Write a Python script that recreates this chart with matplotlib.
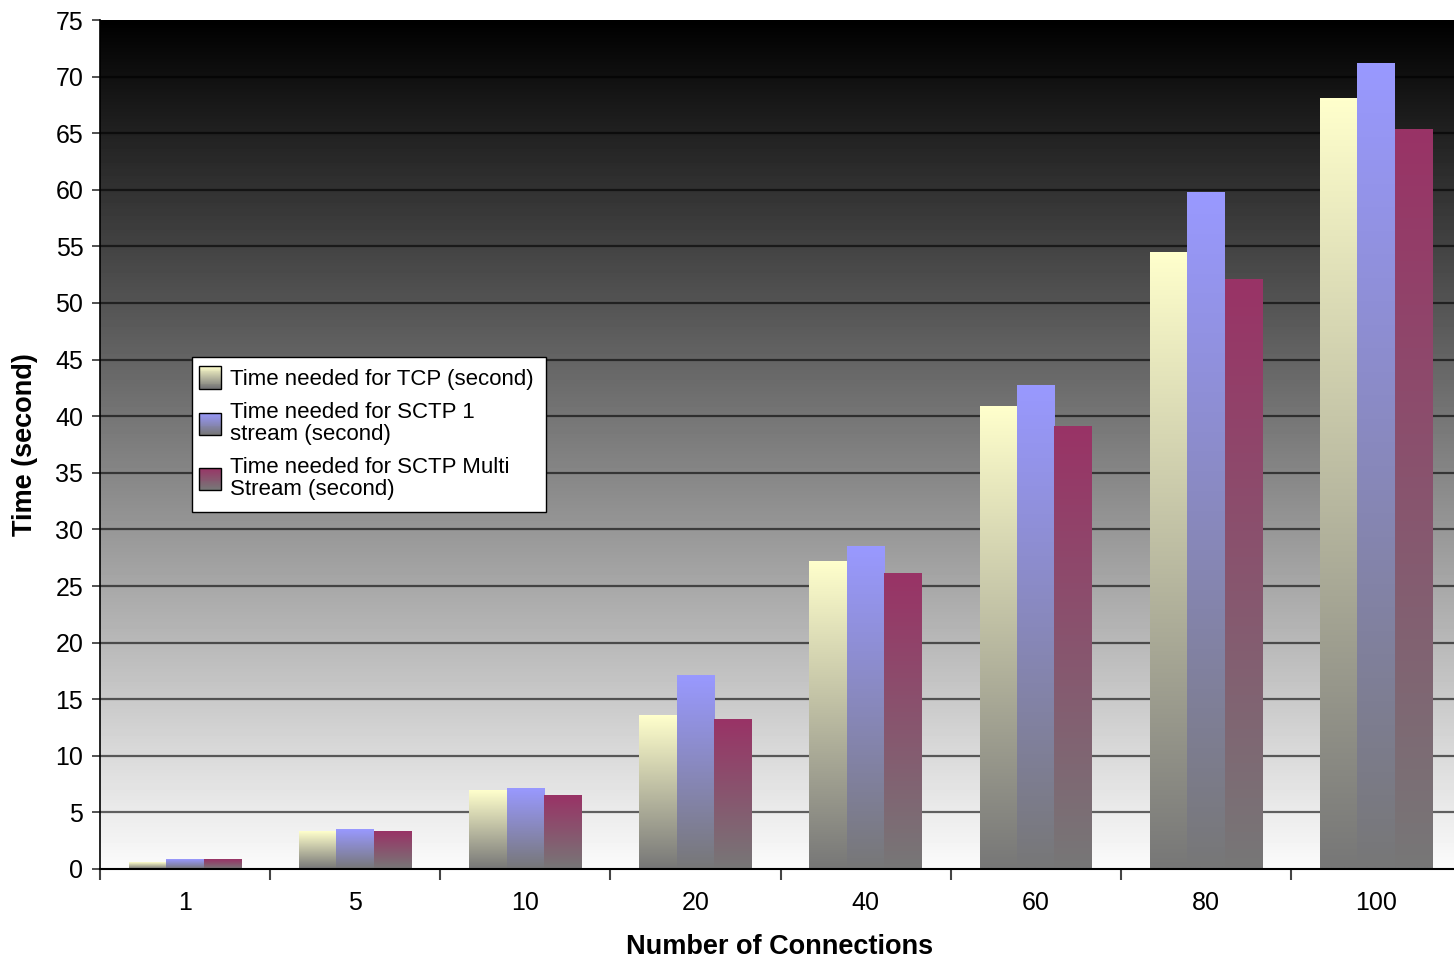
import numpy as np
import matplotlib
matplotlib.use("Agg")
import matplotlib.pyplot as plt
from matplotlib.colors import to_rgb
from matplotlib.patches import Rectangle
from matplotlib.legend_handler import HandlerBase

plt.rcParams['font.family'] = ['Liberation Sans', 'DejaVu Sans']

# Data
connections = ["1", "5", "10", "20", "40", "60", "80", "100"]
tcp = [0.6, 3.3, 6.9, 13.6, 27.2, 40.9, 54.5, 68.1]
sctp_single = [0.8, 3.5, 7.1, 17.1, 28.5, 42.7, 59.8, 71.2]
sctp_multi = [0.8, 3.3, 6.5, 13.2, 26.1, 39.1, 52.1, 65.3]
series_labels = ["Time needed for TCP (second)",
                 "Time needed for SCTP 1\nstream (second)",
                 "Time needed for SCTP Multi\nStream (second)"]
top_colors = ["#ffffcc", "#9999ff", "#993366"]
bottom_color = "#777777"

W, H = 1454, 958
fig = plt.figure(figsize=(W / 100, H / 100), dpi=100)
fig.patch.set_facecolor("white")
ax = fig.add_axes([100 / W, (H - 869) / H, 1361 / W, 849 / H])

# Background gradient: black at top fading to near white at bottom
bg = np.linspace(0.0, 0.985, 256).reshape(-1, 1)
ax.imshow(np.repeat(bg, 2, axis=1), cmap="gray", vmin=0, vmax=1,
          origin="upper", extent=[0, 1, 0, 1], transform=ax.transAxes,
          aspect="auto", zorder=0, interpolation="bilinear")

x = np.arange(len(connections))
width = 0.22


def gradient_image(top, bottom, n=128):
    t = np.linspace(0, 1, n)[:, None]
    c0 = np.array(to_rgb(top))
    c1 = np.array(to_rgb(bottom))
    img = c0[None, :] * (1 - t) + c1[None, :] * t
    return img[:, None, :]


for i, (vals, col) in enumerate(zip([tcp, sctp_single, sctp_multi], top_colors)):
    bars = ax.bar(x + (i - 1) * width, vals, width, color="none",
                  edgecolor="none", zorder=3)
    img = gradient_image(col, bottom_color)
    for b in bars:
        x0, y0 = b.get_x(), b.get_y()
        ax.imshow(img, origin="upper",
                  extent=[x0, x0 + b.get_width(), y0, y0 + b.get_height()],
                  aspect="auto", zorder=3, interpolation="bilinear")
ax.set_xlim(-0.5, len(connections) - 0.5)
ax.set_ylim(0, 75)

# Gridlines
for yv in range(5, 75, 5):
    ax.axhline(yv, color="black", lw=1.6, alpha=0.6, zorder=2)

# Axes styling
for s in ["top", "right"]:
    ax.spines[s].set_visible(False)
ax.spines["left"].set_color("black")
ax.spines["bottom"].set_color("black")
ax.spines["left"].set_linewidth(1.2)
ax.spines["bottom"].set_linewidth(1.5)
ax.spines["left"].set_zorder(5)
ax.spines["bottom"].set_zorder(5)

ax.set_yticks(range(0, 80, 5))
ax.tick_params(axis="y", direction="out", length=6, width=1.2,
               labelsize=18, pad=6, color="#333333")
ax.set_xticks(x)
ax.set_xticklabels(connections)
ax.set_xticks(np.arange(-0.5, len(connections) + 0.5, 1), minor=True)
ax.tick_params(axis="x", which="major", length=0, labelsize=18, pad=16)
ax.tick_params(axis="x", which="minor", direction="out", length=8,
               width=1.5, color="#444444")

fig.text(780 / W, 1 - 947 / H, "Number of Connections", fontsize=19.5,
         fontweight="bold", ha="center", va="center")
fig.text(25 / W, 1 - 445 / H, "Time (second)", rotation=90, fontsize=19.5,
         fontweight="bold", ha="center", va="center")


class GradientHandler(HandlerBase):
    """Legend swatch filled with the same vertical gradient as the bars."""

    def __init__(self, top, **kw):
        super().__init__(**kw)
        self.top = top

    def create_artists(self, legend, orig_handle, xdescent, ydescent, width,
                       height, fontsize, trans):
        arts = []
        n = 24
        c0 = np.array(to_rgb(self.top))
        c1 = np.array(to_rgb(bottom_color))
        size = 16
        x0 = -xdescent - 3.6
        if height > fontsize * 1.5:
            y0 = -ydescent + height - size - 1
        else:
            y0 = -ydescent + (height - size) / 2
        for k in range(n):
            t = k / (n - 1)
            col = c0 * (1 - t) + c1 * t
            arts.append(Rectangle((x0, y0 + size * (1 - (k + 1) / n)), size,
                                  size / n + 0.3, facecolor=col,
                                  edgecolor="none", transform=trans))
        arts.append(Rectangle((x0, y0), size, size, facecolor="none",
                              edgecolor="black", lw=1.0, transform=trans))
        return arts


handles = [Rectangle((0, 0), 1, 1) for _ in range(3)]
handler_map = {h: GradientHandler(c) for h, c in zip(handles, top_colors)}
leg = fig.legend(handles, series_labels, handler_map=handler_map,
                 loc="upper left", bbox_to_anchor=(192 / W, 1 - 357 / H),
                 fontsize=16, frameon=True, fancybox=False,
                 borderpad=0.55, labelspacing=0.55, handlelength=1.0,
                 handletextpad=0.15, borderaxespad=0)
leg.get_frame().set_edgecolor("black")
leg.get_frame().set_linewidth(1.0)
leg.get_frame().set_facecolor("white")
leg.get_frame().set_alpha(1.0)
for t in leg.get_texts():
    t.set_linespacing(1.05)

fig.savefig("out.png", dpi=100)
